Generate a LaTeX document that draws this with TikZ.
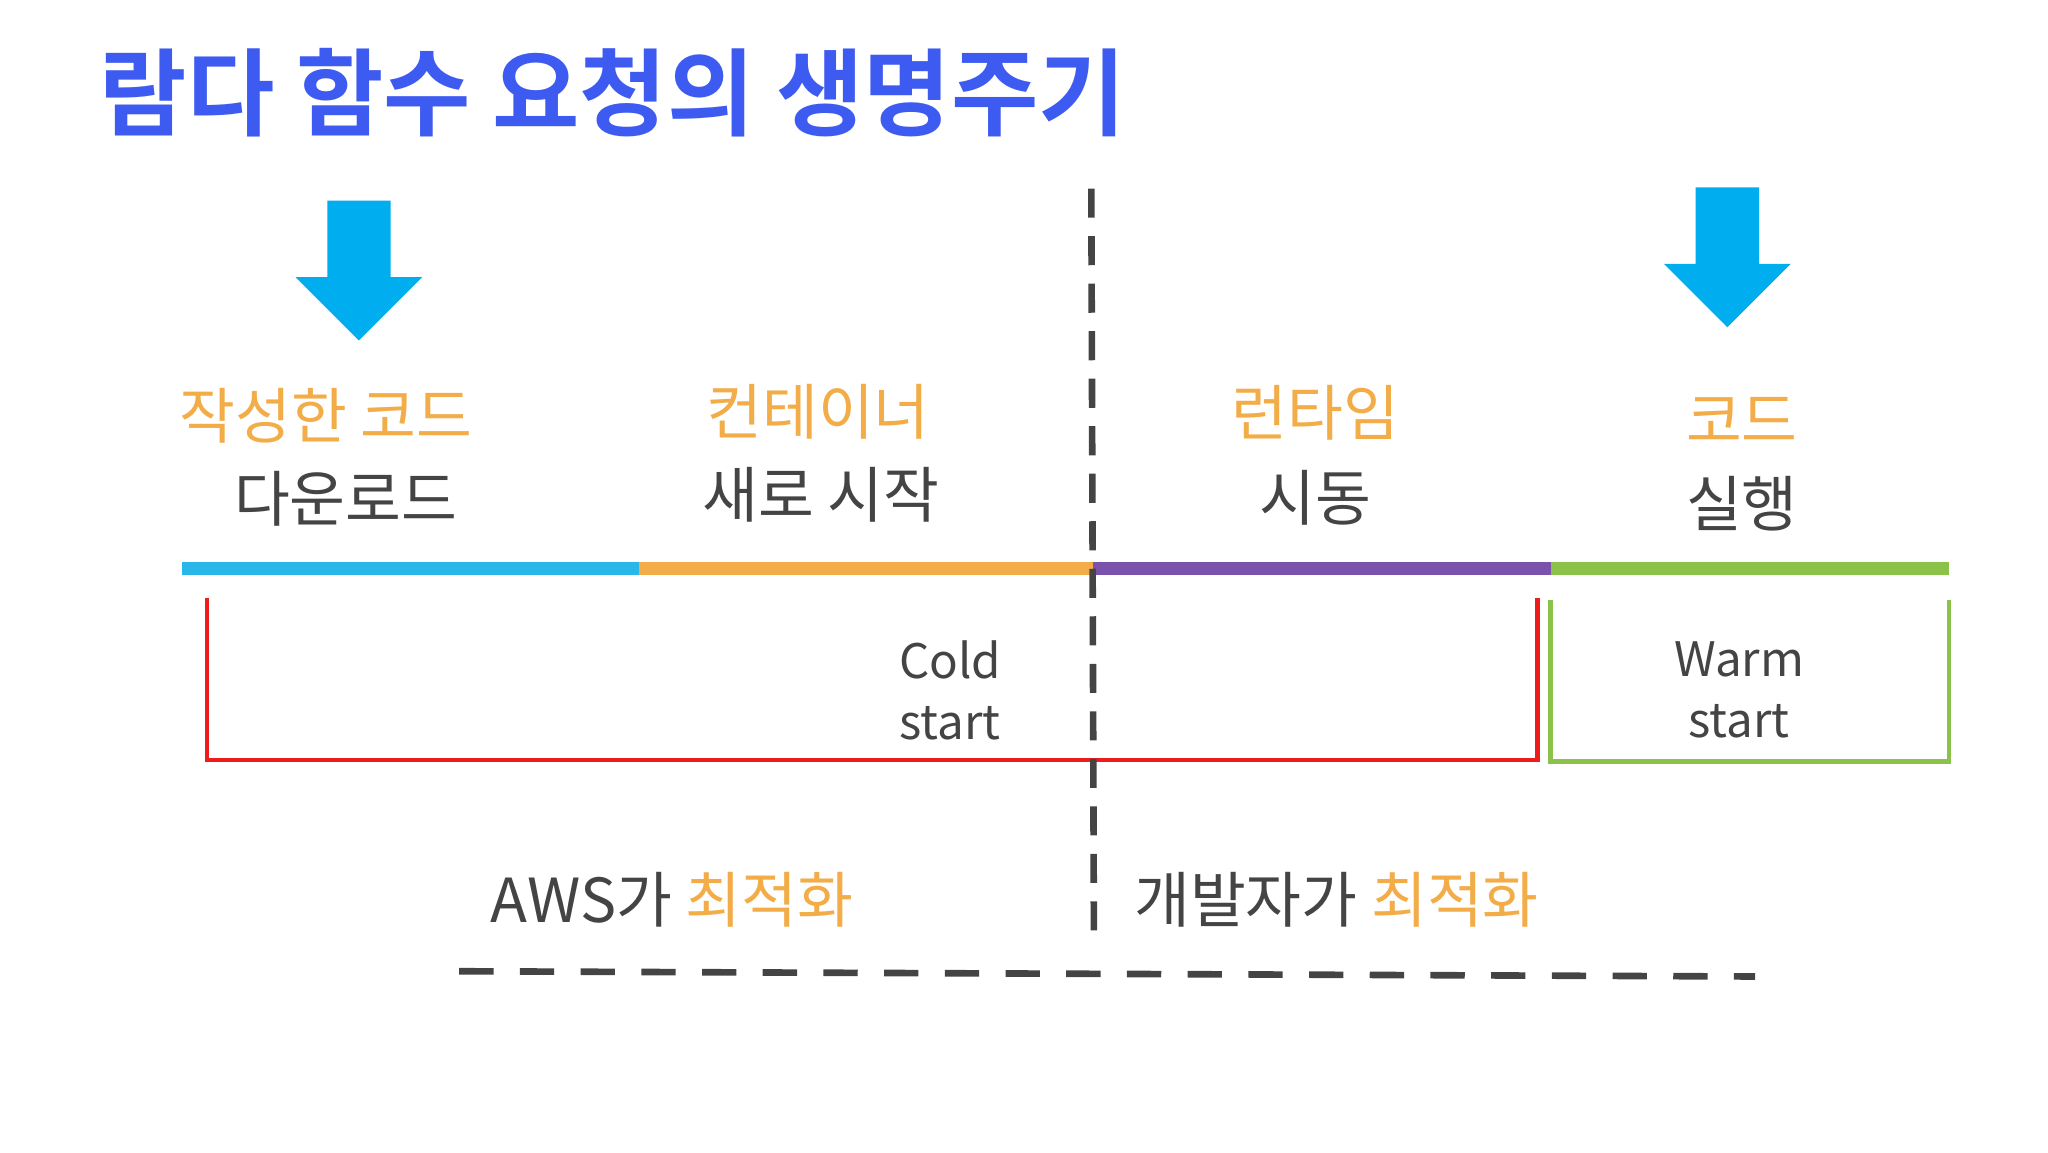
\documentclass[tikz,border=0pt]{standalone}
\usepackage{fontspec}
\setmainfont{Noto Sans CJK KR}
\newfontfamily\krbold{Noto Sans CJK KR Bold}
\definecolor{ttl}{HTML}{3D5AF1}
\definecolor{arr}{HTML}{00AEEF}
\definecolor{org}{HTML}{F2AC48}
\definecolor{dk}{HTML}{444444}
\definecolor{cy}{HTML}{29B6E8}
\definecolor{pu}{HTML}{7B52AB}
\definecolor{gr}{HTML}{8BC34A}
\definecolor{rd}{HTML}{EE1C1C}
\begin{document}
\begin{tikzpicture}[x=1pt,y=-1pt,
  lbl/.style={font=\fontsize{46}{50}\selectfont},
  sm/.style={font=\fontsize{36}{46}\selectfont,text=dk,align=center},
  bar/.style={line width=10pt},
  darrow/.style={fill=arr,draw=none}]
\useasboundingbox (0,0) rectangle (1552,873);
\node[anchor=west,text=ttl,font=\krbold\fontsize{72}{80}\selectfont] (title) at (72,70) {람다 함수 요청의 생명주기};
\fill[darrow] (248,152)--(296,152)--(296,210)--(320,210)--(272,258)--(224,210)--(248,210)--cycle;
\fill[darrow] (1285,142)--(1333,142)--(1333,200)--(1357,200)--(1309,248)--(1261,200)--(1285,200)--cycle;
\node[lbl,text=org] (l1) at (247,315) {작성한 코드};
\node[lbl,text=dk] (l1b) at (262,378) {다운로드};
\node[lbl,text=org] (l2) at (620,312) {컨테이너};
\node[lbl,text=dk] (l2b) at (622,375) {새로 시작};
\node[lbl,text=org] (l3) at (997,313) {런타임};
\node[lbl,text=dk] (l3b) at (997,377) {시동};
\node[lbl,text=org] (l4) at (1320,318) {코드};
\node[lbl,text=dk] (l4b) at (1320,382) {실행};
\draw[bar,cy] (138,431)--(484,431);
\draw[bar,org] (484,431)--(828,431);
\draw[bar,pu] (828,431)--(1175,431);
\draw[bar,gr] (1175,431)--(1477,431);
\draw[rd,line width=3.5pt] (157,453)--(157,576)--(1165,576)--(1165,453);
\draw[gr,line width=3.5pt] (1175,455)--(1175,577)--(1477,577)--(1477,455);
\node[sm] (cold) at (720,523) {Cold\\start};
\node[sm] (warm) at (1318,523) {Warm\\start};
\draw[dk,line width=5pt,dash pattern=on 22pt off 14pt] (827,143)--(829,718);
\draw[dk,line width=5pt,dash pattern=on 26pt off 20pt] (348,736)--(1330,740);
\node[lbl,anchor=west,text=dk] (aws) at (368,682) {AWS가 \textcolor{org}{최적화}};
\node[lbl,anchor=west,text=dk] (dev) at (856,682) {개발자가 \textcolor{org}{최적화}};
\end{tikzpicture}
\end{document}
